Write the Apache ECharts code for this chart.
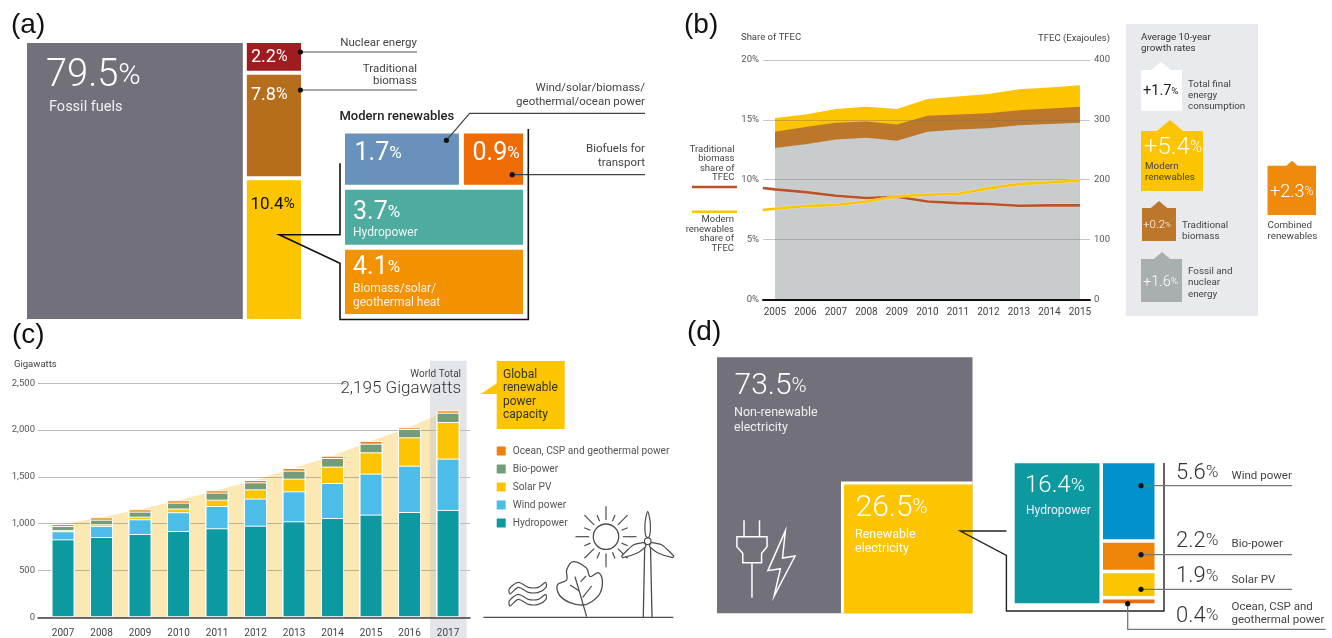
<!DOCTYPE html>
<html>
<head>
<meta charset="utf-8">
<title>Renewable energy shares</title>
<style>
  html, body { margin: 0; padding: 0; background: #fff; }
  #chart { width: 1332px; height: 638px; }
</style>
<script src="https://cdn.jsdelivr.net/npm/echarts@6/dist/echarts.min.js"></script>
</head>
<body>
<div id="chart"></div>
<script>
// panel (a): shares of total final energy consumption, %
var fossilShare = [79.5]
var otherShares = [2.2, 7.8, 10.4]
var modernRows = [[1.7, 0.9], [3.7], [4.1]]
var modernRowSpan = [3.09, 3.47, 3.84] // row heights as drawn, they are not strictly to scale

// panel (b)
var tfecYears = [2005, 2006, 2007, 2008, 2009, 2010, 2011, 2012, 2013, 2014, 2015]
var fossilEJ = [253, 259, 267, 270, 265, 280, 284, 286, 291, 293, 295]
var tradEJ = [27, 29, 28, 27, 27, 27, 25, 25, 25, 26, 27]
var modernEJ = [23, 21, 23, 25, 26, 28, 30, 32, 35, 35, 36]
var shareLineYears = [2004.6, 2005, 2006, 2007, 2008, 2009, 2010, 2011, 2012, 2013, 2014, 2015]
var tradSharePct = [9.3, 9.19, 8.96, 8.66, 8.46, 8.57, 8.18, 8.04, 7.96, 7.82, 7.85, 7.85]
var modernSharePct = [7.46, 7.57, 7.8, 7.88, 8.18, 8.6, 8.74, 8.82, 9.27, 9.63, 9.77, 9.94]

// panel (c): gigawatts
var capYears = [2007, 2008, 2009, 2010, 2011, 2012, 2013, 2014, 2015, 2016, 2017]
var hydroGW = [833, 858, 890, 922, 951, 979, 1026, 1061, 1097, 1125, 1147]
var windGW = [86, 118, 157, 200, 238, 289, 320, 374, 438, 495, 548]
var solarGW = [12, 18, 28, 40, 68, 99, 135, 175, 228, 303, 392]
var bioGW = [44, 49, 54, 63, 75, 75, 86, 92, 92, 89, 99]
var oceanGW = [22, 25, 25, 25, 25, 25, 28, 25, 29, 18, 25]

// panel (d): shares of electricity, %
var nonRenewableShare = [73.5]
var renewableShare = [26.5]
var hydroShare = [16.4]
var otherPowerShares = [5.6, 2.2, 1.9, 0.4]

var FONT = 'Roboto'
var FOSSIL = '#72707a'
var YELLOW = '#fdc400'

// hidden grids used for the proportional block panels, [left, top, width, height]
var grids = [
  [27, 43, 274, 276], // a main
  [345, 133.5, 178, 180.5], // a modern renewables
  [763, 60, 327, 239.3], // b
  [38, 383.3, 432, 234], // c
  [717, 357.3, 255.5, 256], // d main
  [1014.7, 463.3, 139.8, 140] // d renewables
]

function sum(arr) {
  return arr.reduce(function(a, b) { return a + b }, 0)
}

function zip(xs, ys) {
  return xs.map(function(x, i) { return [x, ys[i]] })
}

// running totals, echarts stacks on the x dimension when both axes are value axes
function addUp() {
  var layers = Array.prototype.slice.call(arguments)
  return layers[0].map(function(_, i) {
    return sum(layers.map(function(l) { return l[i] }))
  })
}

// blocks: [x0, y0, x1, y1] in axis units
function blockSeries(gridIdx, blocks, colors, gap) {
  return {
    type: 'custom',
    xAxisIndex: gridIdx,
    yAxisIndex: gridIdx,
    silent: true,
    z: 2,
    encode: { x: [0, 2], y: [1, 3] },
    data: blocks,
    renderItem: function(params, api) {
      var a = api.coord([api.value(0), api.value(1)])
      var b = api.coord([api.value(2), api.value(3)])
      var g = grids[gridIdx]
      var x0 = a[0] > g[0] + 0.5 ? a[0] + gap / 2 : a[0]
      var y0 = a[1] > g[1] + 0.5 ? a[1] + gap / 2 : a[1]
      var x1 = b[0] < g[0] + g[2] - 0.5 ? b[0] - gap / 2 : b[0]
      var y1 = b[1] < g[1] + g[3] - 0.5 ? b[1] - gap / 2 : b[1]
      return {
        type: 'rect',
        shape: { x: x0, y: y0, width: x1 - x0, height: y1 - y0 },
        style: { fill: colors[params.dataIndex] }
      }
    }
  }
}

// column of blocks stacked downward
function columnBlocks(values, x0, x1, yMax) {
  var total = sum(values)
  var y = 0
  return values.map(function(v) {
    var h = v / total * yMax
    var row = [x0, y, x1, y + h]
    y += h
    return row
  })
}

var aMainBlocks = [[0, 0, fossilShare[0], 100]].concat(columnBlocks(otherShares, fossilShare[0], 100, 100))

var aModernBlocks = []
var rowY = 0
modernRows.forEach(function(row, r) {
  var xAt = 0
  var rowTotal = sum(row)
  row.forEach(function(v) {
    aModernBlocks.push([xAt, rowY, xAt + v / rowTotal * 2.6, rowY + modernRowSpan[r]])
    xAt += v / rowTotal * 2.6
  })
  rowY += modernRowSpan[r]
})

var side = Math.sqrt(renewableShare[0] / 100) * 100
var dMainBlocks = [[0, 0, 100, 100], [100 - side, 100 - side, 100, 100]]
var dInsetBlocks = [[100 - side, 100 - side, 100, 100]]

var dStackTotal = hydroShare[0] + sum(otherPowerShares)
var dStackBlocks = [[0, 0, hydroShare[0], 100]].concat(columnBlocks(otherPowerShares, hydroShare[0], dStackTotal, 100))

// graphic helpers
var gfx = []
function txt(x, y, text, size, color, opts) {
  opts = opts || {}
  gfx.push({
    type: 'text',
    z: 20,
    silent: true,
    style: {
      x: x,
      y: y,
      text: text,
      fontFamily: opts.family || FONT,
      fontSize: size,
      fontWeight: opts.weight || 400,
      fill: color,
      align: opts.align || 'left',
      verticalAlign: 'middle',
      rich: opts.rich
    }
  })
}
function pct(x, y, value, size, color, opts) {
  opts = opts || {}
  var prefix = opts.prefix || ''
  txt(x, y, '{n|' + prefix + value.toFixed(1) + '}{p|%}', size, color, {
    align: opts.align,
    rich: {
      n: { fontFamily: FONT, fontSize: size, fontWeight: opts.weight || 300, fill: color },
      p: { fontFamily: FONT, fontSize: size * (opts.ratio || 0.68), fontWeight: opts.weight || 300, fill: color }
    }
  })
}
function lines(points, color, width, z, smooth) {
  gfx.push({
    type: 'polyline',
    z: z || 15,
    silent: true,
    shape: { points: points, smooth: smooth || 0 },
    style: { stroke: color, lineWidth: width, fill: null }
  })
}
function poly(points, fill, z, stroke, width, smooth) {
  gfx.push({
    type: 'polygon',
    z: z || 15,
    silent: true,
    shape: { points: points, smooth: smooth || 0 },
    style: { fill: fill, stroke: stroke || null, lineWidth: width || 0 }
  })
}
function box(x0, y0, x1, y1, fill, z) {
  gfx.push({
    type: 'rect',
    z: z || 10,
    silent: true,
    shape: { x: x0, y: y0, width: x1 - x0, height: y1 - y0 },
    style: { fill: fill }
  })
}
function dot(x, y) {
  gfx.push({ type: 'circle', z: 18, silent: true, shape: { cx: x, cy: y, r: 2.6 }, style: { fill: '#111' } })
}
function ring(x, y, r, color, width) {
  gfx.push({ type: 'circle', z: 16, silent: true, shape: { cx: x, cy: y, r: r }, style: { fill: null, stroke: color, lineWidth: width } })
}
function card(x0, y0, x1, y1, tipX, tipY, fill) {
  box(x0, y0, x1, y1, fill, 11)
  var half = (y0 - tipY) * 1.25
  poly([[tipX - half, y0 + 0.5], [tipX, tipY], [tipX + half, y0 + 0.5]], fill, 11)
}

// panel tags
txt(11, 25, '(a)', 28, '#111', { family: 'Liberation Sans' })
txt(684, 25, '(b)', 28, '#111', { family: 'Liberation Sans' })
txt(12, 335, '(c)', 28, '#111', { family: 'Liberation Sans' })
txt(687, 332, '(d)', 28, '#111', { family: 'Liberation Sans' })

// ---- panel (a) text
pct(46, 76, fossilShare[0], 38, '#fff', { ratio: 0.8 })
txt(49, 107, 'Fossil fuels', 14.5, '#f0f0f0')
pct(251, 57.5, otherShares[0], 18, '#fff', { weight: 400, ratio: 0.88 })
pct(251, 95, otherShares[1], 18, '#fff', { weight: 400, ratio: 0.88 })
pct(250.5, 204.5, otherShares[2], 17, '#111', { weight: 400, ratio: 0.88 })

lines([[300.4, 52], [417, 52]], '#888', 1.5)
dot(300.4, 52)
lines([[300.4, 90], [417, 90]], '#888', 1.5)
dot(300.4, 90)
txt(417, 43.5, 'Nuclear energy', 11.5, '#444', { align: 'right' })
txt(417, 69, 'Traditional', 11.5, '#444', { align: 'right' })
txt(417, 81.5, 'biomass', 11.5, '#444', { align: 'right' })
txt(339.5, 116.5, 'Modern renewables', 13, '#222', { weight: 500 })
txt(645, 88, 'Wind/solar/biomass/', 11.5, '#444', { align: 'right' })
txt(645, 102, 'geothermal/ocean power', 11.5, '#444', { align: 'right' })
lines([[446.4, 140.3], [469.6, 113.3], [645, 113.3]], '#444', 1.2)
dot(446.4, 140.3)
txt(645, 149.5, 'Biofuels for', 11.5, '#444', { align: 'right' })
txt(645, 163.5, 'transport', 11.5, '#444', { align: 'right' })
lines([[512.2, 174.7], [645, 174.7]], '#444', 1.2)
dot(512.2, 174.7)
lines([[340, 163.3], [340, 234.7], [279.3, 234.7], [340, 263.3], [340, 319.5], [528.3, 319.5], [528.3, 129]], '#111', 1.6)

pct(354.5, 154, modernRows[0][0], 25, '#fff', { weight: 400 })
pct(472.5, 154, modernRows[0][1], 25, '#fff', { weight: 400 })
pct(353, 212.5, modernRows[1][0], 25, '#fff', { weight: 400 })
txt(353, 232.5, 'Hydropower', 12, '#f0f7f5')
pct(353, 268, modernRows[2][0], 25, '#fff', { weight: 400 })
txt(353, 288.5, 'Biomass/solar/', 12, '#fdf1dc')
txt(353, 302.5, 'geothermal heat', 12, '#fdf1dc')

// ---- panel (b) text
txt(741, 38, 'Share of TFEC', 9.5, '#444')
txt(1110, 38.5, 'TFEC (Exajoules)', 9.5, '#444', { align: 'right' })
var tradTag = ['Traditional', 'biomass', 'share of', 'TFEC']
tradTag.forEach(function(s, i) { txt(734.5, 149.5 + i * 9.5, s, 9.5, '#444', { align: 'right' }) })
var modernTag = ['Modern', 'renewables', 'share of', 'TFEC']
modernTag.forEach(function(s, i) { txt(734, 220 + i * 9.4, s, 9.5, '#444', { align: 'right' }) })
lines([[692, 187], [737, 187]], '#b9532a', 2.5)
lines([[692, 211.7], [737, 211.7]], YELLOW, 2.5)

box(1125.7, 24, 1258, 316, '#e8eaee', 10)
txt(1141, 38, 'Average 10-year', 9.8, '#333')
txt(1141, 49, 'growth rates', 9.8, '#333')
card(1141, 70, 1182, 110.7, 1161, 61.7, '#fff')
card(1141, 131, 1203, 191, 1170, 120, YELLOW)
card(1142, 208, 1176, 241, 1159, 201, '#bd772b')
card(1141, 259, 1182, 302, 1162, 252, '#a9aeb0')
card(1267.5, 165.7, 1316, 215, 1292, 160.7, '#f08a0c')

pct(1143, 91.5, 1.7, 14.5, '#222', { prefix: '+', weight: 400 })
txt(1188, 85, 'Total final', 9.8, '#444')
txt(1188, 96, 'energy', 9.8, '#444')
txt(1188, 106.5, 'consumption', 9.8, '#444')
pct(1144, 148, 5.4, 24, '#fff', { prefix: '+' })
txt(1145, 167, 'Modern', 9.8, '#444')
txt(1145, 178, 'renewables', 9.8, '#444')
pct(1143, 225.5, 0.2, 11.5, '#fff', { prefix: '+' })
txt(1182, 225.5, 'Traditional', 9.8, '#444')
txt(1182, 236.5, 'biomass', 9.8, '#444')
pct(1143, 282, 1.6, 14.5, '#fff', { prefix: '+' })
txt(1188, 272, 'Fossil and', 9.8, '#444')
txt(1188, 283, 'nuclear', 9.8, '#444')
txt(1188, 294.5, 'energy', 9.8, '#444')
pct(1270, 192, 2.3, 18, '#fff', { prefix: '+' })
txt(1267.5, 225.5, 'Combined', 9.8, '#444')
txt(1267.5, 236.5, 'renewables', 9.8, '#444')

// ---- panel (c) text
txt(14, 365, 'Gigawatts', 9.5, '#444')
box(346, 372, 470, 397, '#fff', 2) // clears the 2,500 line behind the total
box(430, 360.7, 466.7, 638, 'rgba(188,192,204,0.42)', 3)
txt(461, 374, 'World Total', 10, '#444', { align: 'right' })
txt(461, 389, '2,195 Gigawatts', 17, '#333', { align: 'right', weight: 300 })
box(496.7, 361, 564.7, 429, YELLOW, 10)
poly([[481, 394], [497, 383], [497, 394]], YELLOW, 10)
var calloutText = ['Global', 'renewable', 'power', 'capacity']
calloutText.forEach(function(s, i) { txt(503, 375 + i * 13.4, s, 12, '#333') })

// line art, coordinates measured on the source drawing
function ic(pts) {
  return pts.map(function(p) { return [470 + p[0] / 3, 350 + p[1] / 3] })
}
var INK = '#4d4d4d'
lines(ic([[40, 802], [610, 802]]), INK, 1.4)
ring(606, 536.7, 12.7, INK, 1.3)
for (var i = 0; i < 16; i++) {
  var ang = i * Math.PI / 8
  var far = i % 2 === 0 ? 30.5 : 23.5
  lines([[606 + Math.cos(ang) * 16.8, 536.7 + Math.sin(ang) * 16.8], [606 + Math.cos(ang) * far, 536.7 + Math.sin(ang) * far]], INK, 1.2)
}
lines([[644.7, 546.7], [643.3, 617.3]], INK, 1.3)
lines([[650.5, 546.7], [652, 617.3]], INK, 1.3)
ring(647.7, 541.3, 3.3, INK, 1.2)
poly([[647.7, 511.7], [650.3, 523.3], [649.3, 536.7], [646, 536.7], [645, 523.3]], '#fff', 15, INK, 1.2, 0.3)
poly([[644.3, 542.7], [633.3, 545], [621.7, 556], [622.7, 557.7], [636.7, 553.3], [645.7, 546.7]], '#fff', 15, INK, 1.2, 0.2)
poly([[651, 542.7], [662, 545], [673.7, 556], [672.7, 557.7], [658.7, 553.3], [649.7, 546.7]], '#fff', 15, INK, 1.2, 0.2)
poly(ic([[310, 635], [350, 655], [360, 680], [385, 668], [397, 690], [390, 730], [365, 755], [338, 765], [300, 758], [268, 735], [262, 705], [290, 690], [290, 660]]), '#fff', 15, INK, 1.3, 0.35)
lines(ic([[315, 680], [350, 800]]), INK, 1.3)
lines(ic([[300, 705], [327, 722]]), INK, 1.2)
lines(ic([[338, 742], [365, 708]]), INK, 1.2)
lines(ic([[332, 695], [348, 678]]), INK, 1.2)
var waveBand = [[118, 716], [145, 697], [175, 712], [205, 712], [227, 697], [228, 712], [205, 727], [175, 727], [145, 712], [120, 732]]
poly(ic(waveBand), '#fff', 15, INK, 1.2, 0.3)
poly(ic(waveBand.map(function(p) { return [p[0], p[1] + 36] })), '#fff', 15, INK, 1.2, 0.3)

// ---- panel (d) text
pct(734.5, 386.5, nonRenewableShare[0], 30, '#fff')
txt(734, 412.5, 'Non-renewable', 12.5, '#eee')
txt(734, 427.5, 'electricity', 12.5, '#eee')
pct(855.5, 508, renewableShare[0], 30, '#fff')
txt(855, 534.5, 'Renewable', 12.5, '#fff')
txt(855, 549, 'electricity', 12.5, '#fff')
pct(1025, 486, hydroShare[0], 24, '#fff', { ratio: 0.8 })
txt(1026, 511, 'Hydropower', 12, '#eef')

lines([[1006.4, 531], [960.3, 531], [1006.4, 555.3], [1006.4, 611], [1164, 611], [1164, 463]], '#222', 1.4)
var leaderY = [485.7, 554.7, 589.3]
leaderY.forEach(function(y) {
  lines([[1141, y], [1292, y]], '#777', 1.3)
  dot(1141, y)
})
lines([[1127.7, 603.7], [1127.7, 629.3], [1325.6, 629.3]], '#777', 1.3)
dot(1127.7, 603.7)
pct(1176, 473, otherPowerShares[0], 22, '#333', { ratio: 0.78 })
txt(1231.5, 476, 'Wind power', 11.5, '#444')
pct(1176, 541, otherPowerShares[1], 22, '#333', { ratio: 0.78 })
txt(1231.5, 544, 'Bio-power', 11.5, '#444')
pct(1176, 576.5, otherPowerShares[2], 22, '#333', { ratio: 0.78 })
txt(1231.5, 580, 'Solar PV', 11.5, '#444')
pct(1176, 616, otherPowerShares[3], 22, '#333', { ratio: 0.78 })
txt(1231.5, 607, 'Ocean, CSP and', 11.5, '#444')
txt(1231.5, 620, 'geothermal power', 11.5, '#444')

function icd(pts) {
  return pts.map(function(p) { return [680 + p[0] / 2.39, 320 + p[1] / 3] })
}
lines(icd([[153, 601], [153, 650]]), '#fff', 1.5)
lines(icd([[190, 601], [190, 650]]), '#fff', 1.5)
poly(icd([[136, 650], [208, 650], [208, 680], [195, 700], [195, 728], [150, 728], [150, 700], [136, 680]]), null, 15, '#fff', 1.5)
lines(icd([[172, 728], [172, 833]]), '#fff', 1.5)
poly(icd([[252, 632], [210, 752], [240, 746], [225, 828], [275, 708], [245, 714]]), null, 15, '#fff', 1.5)

var xLabelStyle = { fontFamily: FONT, fontSize: 10, color: '#444' }
var yLabelStyle = { fontFamily: FONT, fontSize: 9.5, color: '#555' }

function hiddenX(min, max) { return { type: 'value', show: false, min: min, max: max } }
function hiddenY(min, max, gridIndex) { return { type: 'value', show: false, min: min, max: max, inverse: true, gridIndex: gridIndex } }
function withGrid(axis, gridIndex) { axis.gridIndex = gridIndex; return axis }

var xAxes = [
  withGrid(hiddenX(0, 100), 0),
  withGrid(hiddenX(0, 2.6), 1),
  {
    type: 'value', gridIndex: 2, min: 2004.607, max: 2015.33, z: 5,
    axisLine: { show: true, onZero: false, lineStyle: { color: '#111', width: 2 } },
    axisTick: { show: false }, splitLine: { show: false },
    axisLabel: Object.assign({ customValues: tfecYears, margin: 8, formatter: function(v) { return String(v) } }, xLabelStyle)
  },
  {
    type: 'value', gridIndex: 3, min: 2006.35, max: 2017.57, z: 5,
    axisLine: { show: true, onZero: false, lineStyle: { color: '#444', width: 1.6 } },
    axisTick: { show: false }, splitLine: { show: false },
    axisLabel: Object.assign({ customValues: capYears, margin: 11, formatter: function(v) { return String(v) } }, xLabelStyle)
  },
  withGrid(hiddenX(0, 100), 4),
  withGrid(hiddenX(0, dStackTotal), 5)
]
var yAxes = [
  hiddenY(0, 100, 0),
  hiddenY(0, 10.4, 1),
  {
    type: 'value', gridIndex: 2, min: 0, max: 20, interval: 5, z: 1,
    axisLine: { show: false }, axisTick: { show: false },
    splitLine: { lineStyle: { color: 'rgba(105,105,105,0.36)', width: 1.2 } },
    axisLabel: Object.assign({ margin: 4, formatter: '{value}%' }, yLabelStyle)
  },
  {
    type: 'value', gridIndex: 3, min: 0, max: 2500, interval: 500, z: 1,
    axisLine: { show: false }, axisTick: { show: false },
    splitLine: { lineStyle: { color: 'rgba(95,95,95,0.42)', width: 1 } },
    axisLabel: Object.assign({ margin: 3 }, yLabelStyle)
  },
  hiddenY(0, 100, 4),
  hiddenY(0, 100, 5),
  {
    type: 'value', gridIndex: 2, position: 'right', min: 0, max: 400, interval: 100, z: 1,
    axisLine: { show: false }, axisTick: { show: false }, splitLine: { show: false },
    axisLabel: Object.assign({ margin: 4 }, yLabelStyle)
  }
]

function tfecArea(name, values, color) {
  return {
    name: name, type: 'line', xAxisIndex: 2, yAxisIndex: 6, z: 0, silent: true,
    showSymbol: false, symbol: 'none', lineStyle: { width: 0 },
    areaStyle: { color: color, opacity: 1 },
    data: zip(tfecYears, values)
  }
}
function shareLine(name, values, color) {
  return {
    name: name, type: 'line', xAxisIndex: 2, yAxisIndex: 2, z: 3, silent: true,
    showSymbol: false, symbol: 'none',
    lineStyle: { color: color, width: 2.6, shadowColor: 'rgba(255,255,255,0.8)', shadowBlur: 1 },
    data: zip(shareLineYears, values)
  }
}
function capBar(name, tops, color) {
  return {
    name: name, type: 'bar', xAxisIndex: 3, yAxisIndex: 3, z: 4, silent: true,
    barWidth: 23,
    barGap: '-100%',
    itemStyle: { color: color, borderColor: '#fff', borderWidth: 1 },
    data: zip(capYears, tops)
  }
}

var chart = echarts.init(document.getElementById('chart'), null, { renderer: 'canvas' })
chart.setOption({
  animation: false,
  backgroundColor: '#fff',
  tooltip: { show: false },
  grid: grids.map(function(g) {
    return { left: g[0], top: g[1], width: g[2], height: g[3], containLabel: false, show: false, outerBoundsMode: 'none' }
  }),
  xAxis: xAxes,
  yAxis: yAxes,
  legend: {
    orient: 'vertical', left: 496.7, top: 446, padding: 0, itemWidth: 9, itemHeight: 9, itemGap: 8, icon: 'rect',
    selectedMode: false,
    itemStyle: { borderWidth: 0 },
    textStyle: { fontFamily: FONT, fontSize: 10.2, color: '#555', padding: [0, 0, 0, 2] },
    data: ['Ocean, CSP and geothermal power', 'Bio-power', 'Solar PV', 'Wind power', 'Hydropower']
  },
  graphic: { elements: gfx },
  series: [
    blockSeries(0, aMainBlocks, [FOSSIL, '#a11c20', '#b76e1c', YELLOW], 4),
    blockSeries(1, aModernBlocks, ['#6892bb', '#ef6b05', '#4eab9f', '#f39200'], 5),
    // tallest layer first so the lower layers paint over it
    tfecArea('Modern renewables', addUp(fossilEJ, tradEJ, modernEJ), YELLOW),
    tfecArea('Traditional biomass', addUp(fossilEJ, tradEJ), '#bd772b'),
    tfecArea('Fossil and nuclear', fossilEJ, '#c9cccd'),
    shareLine('Traditional biomass share', tradSharePct, '#b9532a'),
    shareLine('Modern renewables share', modernSharePct, YELLOW),
    {
      name: 'World total', type: 'line', xAxisIndex: 3, yAxisIndex: 3, z: 0, silent: true,
      showSymbol: false, symbol: 'none', lineStyle: { width: 0 },
      areaStyle: { color: '#fce8b3', opacity: 1 },
      data: zip(capYears, addUp(hydroGW, windGW, solarGW, bioGW, oceanGW))
    },
    capBar('Ocean, CSP and geothermal power', addUp(hydroGW, windGW, solarGW, bioGW, oceanGW), '#ee7f0c'),
    capBar('Bio-power', addUp(hydroGW, windGW, solarGW, bioGW), '#739c78'),
    capBar('Solar PV', addUp(hydroGW, windGW, solarGW), YELLOW),
    capBar('Wind power', addUp(hydroGW, windGW), '#4bbde8'),
    capBar('Hydropower', hydroGW, '#0c9aa0'),
    blockSeries(4, dMainBlocks, [FOSSIL, '#fff'], 0),
    blockSeries(4, dInsetBlocks, [YELLOW], 6),
    blockSeries(5, dStackBlocks, ['#0c9aa0', '#0192ce', '#ef8508', YELLOW, '#ee6b10'], 3.5)
  ]
})
</script>
</body>
</html>
